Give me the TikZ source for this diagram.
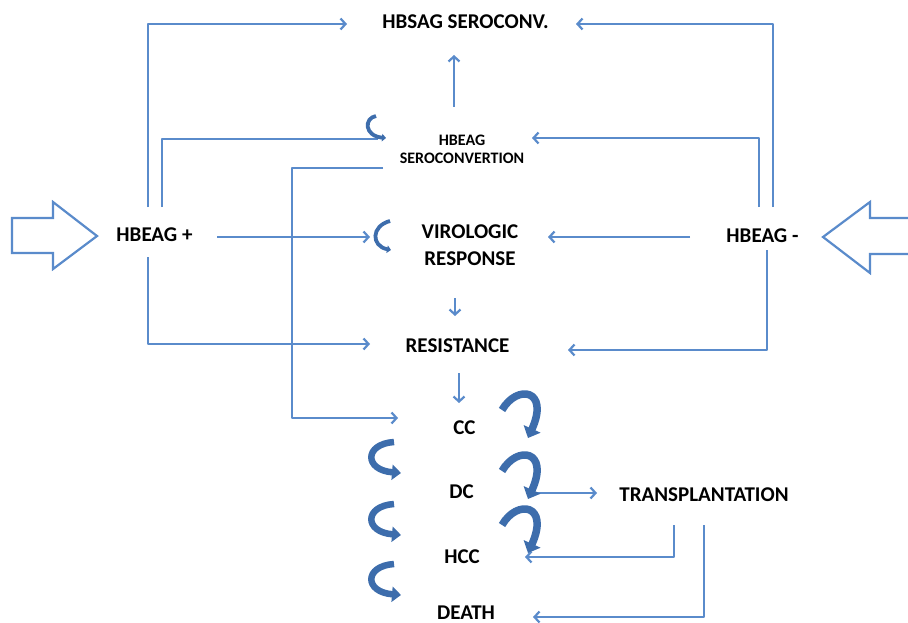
\documentclass[tikz,border=0pt]{standalone}
\usepackage{fontspec}
\setmainfont{Carlito}
\usetikzlibrary{arrows.meta,calc}
\definecolor{ln}{HTML}{5A8BCB}
\definecolor{crv}{HTML}{3D6DAC}
\begin{document}
\begin{tikzpicture}[x=1pt,y=-1pt,
 lbl/.style={font=\fontsize{21}{26.5}\selectfont\bfseries, inner sep=0pt, align=center},
 slbl/.style={font=\fontsize{16}{18}\selectfont\bfseries, inner sep=0pt, align=center},
 conn/.style={draw=ln, line width=2.2pt, line join=round},
 arr/.style={conn, -{Straight Barb[length=5pt,width=11pt]}},
 curl/.style={draw=crv, line width=7.5pt, -{Triangle[length=10pt,width=18pt]}},
 lcurl/.style={draw=crv, line width=6.5pt, -{Triangle[length=9pt,width=15pt]}},
 scurl/.style={draw=crv, line width=3.8pt, -{Triangle[length=4pt,width=7.5pt]}},
 block/.style={draw=ln, line width=2.2pt, fill=white}]
\useasboundingbox (0,0) rectangle (908,623);
\fill[white] (0,0) rectangle (908,623);

\node[lbl] (hbs) at (465.5,21.5) {HBSAG SEROCONV.};
\node[slbl] (hbe) at (462,149) {HBEAG\\SEROCONVERTION};
\node[lbl] (vr) at (470,245) {VIROLOGIC\\RESPONSE};
\node[lbl] (hbp) at (154.5,235) {HBEAG +};
\node[lbl] (hbm) at (762.5,235.5) {HBEAG -};
\node[lbl] (res) at (457.5,346) {RESISTANCE};
\node[lbl] (cc) at (464.5,427.5) {CC};
\node[lbl] (dc) at (461.5,492) {DC};
\node[lbl] (hcc) at (462,556.5) {HCC};
\node[lbl] (death) at (466,612.5) {DEATH};
\node[lbl] (tr) at (704,495) {TRANSPLANTATION};

\draw[arr] ($(hbp)+(-6.5,-28)$) |- ($(hbs)+(-118.5,2.5)$);
\draw[conn] ($(hbp)+(7.5,-28)$) |- ($(hbe)+(-84,-10)$);
\draw[arr] ($(hbe)+(-79,19)$) -- ++(-91,0) |- ($(cc)+(-66.5,-9.5)$);
\draw[arr] ($(hbp)+(62.5,2)$) -- ($(vr)+(-100,-8)$);
\draw[arr] ($(hbp)+(-6.5,22)$) |- ($(res)+(-87.5,-2)$);
\draw[arr] ($(hbm)+(-72.5,1.5)$) -- ($(vr)+(78,-8)$);
\draw[arr] ($(hbm)+(-3.5,-28.5)$) |- ($(hbe)+(70,-11)$);
\draw[arr] ($(hbm)+(10.5,-28.5)$) |- ($(hbs)+(110.5,2.5)$);
\draw[arr] ($(hbm)+(4.5,14.5)$) |- ($(res)+(110.5,4)$);
\draw[arr] ($(hbe)+(-8,-42)$) -- ($(hbs)+(-11.5,33.5)$);
\draw[arr] ($(vr)+(-15,53)$) -- ($(res)+(-2.5,-30)$);
\draw[arr] ($(res)+(1.5,27)$) -- ($(cc)+(-5.5,-24.5)$);
\draw[arr] ($(dc)+(65.5,1)$) -- ($(tr)+(-107,-2)$);
\draw[arr] ($(tr)+(-30,30)$) |- ($(hcc)+(63,0.5)$);
\draw[arr] ($(tr)+(0,30)$) |- ($(death)+(67,4.5)$);

\foreach \oy in {387,448,502}
  \draw[curl] (502,\oy+23) .. controls (517,\oy-3) and (550,\oy+2) .. (528,\oy+51);
\foreach \oy in {440,502,562}
  \draw[lcurl] (394,\oy+2) .. controls (364,\oy+4) and (364,\oy+30) .. (401,\oy+33);
\draw[scurl] (376,116) .. controls (364,118) and (364,136) .. (386,138);
\draw[scurl] (390,221) .. controls (371,226) and (371,246) .. (391,250);

\draw[block] (12,218) -- (53,218) -- (53,202) -- (97,236) -- (53,269) -- (53,253) -- (12,253) -- cycle;
\draw[block] (915,218) -- (870,218) -- (870,202) -- (823,237) -- (870,273) -- (870,254) -- (915,254);
\end{tikzpicture}
\end{document}
